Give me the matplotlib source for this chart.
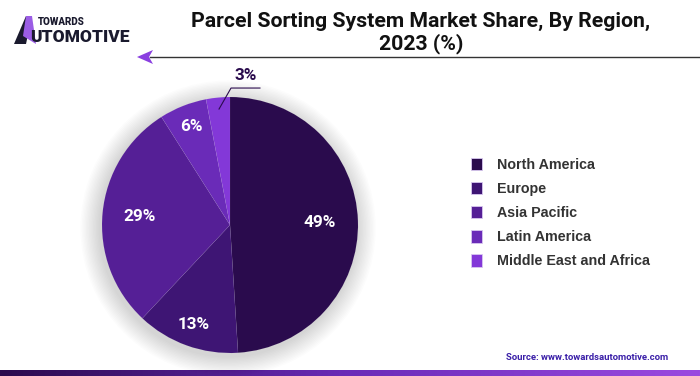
import numpy as np
import matplotlib
matplotlib.use("Agg")
import matplotlib.pyplot as plt
from matplotlib.patches import Polygon, Circle, Rectangle
from matplotlib.lines import Line2D
from matplotlib.colors import LinearSegmentedColormap

# data
regions = ["North America", "Europe", "Asia Pacific", "Latin America", "Middle East and Africa"]
shares = [49, 13, 29, 6, 3]
colors = ["#2a0b4d", "#3e1574", "#551f96", "#6a2bb8", "#8338d8"]
label_dist = [0.70, 0.83, 0.71, 0.83, None]   # None -> outside with leader

title = "Parcel Sorting System Market Share, By Region,\n2023 (%)"
source = "Source: www.towardsautomotive.com"

plt.rcParams["font.family"] = ["Roboto", "DejaVu Sans"]

W, H = 700, 376
fig = plt.figure(figsize=(7, 3.76), dpi=100)
fig.patch.set_facecolor("white")

# overlay axes in pixel coords for decorations
deco = fig.add_axes([0, 0, 1, 1], zorder=0)
deco.set_xlim(0, W)
deco.set_ylim(H, 0)
deco.axis("off")

# pie axes
cx, cy, r = 230, 225, 128
ax = fig.add_axes([(cx - r) / W, (H - cy - r) / H, 2 * r / W, 2 * r / H], zorder=2)
ax.axis("off")

# soft shadow behind pie
for k in range(14):
    rr = 1.0 + 0.011 * (14 - k)
    ax.add_patch(Circle((-0.015, -0.025), rr, color="#000000", alpha=0.011, lw=0,
                        zorder=0, clip_on=False))

wedges, _ = ax.pie(shares, colors=colors, startangle=90, counterclock=False,
                   radius=1, wedgeprops=dict(linewidth=0.3, edgecolor=(1, 1, 1, 0.1)))
ax.set_xlim(-1, 1)
ax.set_ylim(-1, 1)

for w, s, d in zip(wedges, shares, label_dist):
    mid = np.deg2rad((w.theta1 + w.theta2) / 2)
    if d is not None:
        ax.text(d * np.cos(mid), d * np.sin(mid), f"{s}%", color="white",
                fontsize=12.3, fontweight="bold", ha="center", va="center", zorder=5)
    else:
        p0 = (0.91 * np.cos(mid), 0.91 * np.sin(mid))
        p1 = (0.008, 1.07)
        p2 = (0.234, 1.07)
        ax.add_line(Line2D([p0[0], p1[0], p2[0]], [p0[1], p1[1], p2[1]],
                           color="#2a0b4d", lw=0.8, clip_on=False, zorder=5))
        ax.text(0.125, 1.17, f"{s}%", color="#2a0b4d", fontsize=12.3,
                fontweight="bold", ha="center", va="center", clip_on=False)

# legend
handles = [Rectangle((0, 0), 1, 1, facecolor=c, edgecolor="#d8c8f0", lw=0.6) for c in colors]
leg = fig.legend(handles, regions, loc="upper left", bbox_to_anchor=(458 / W, 1 - 145 / H),
                 frameon=False, handlelength=0.75, handleheight=0.95, handletextpad=1.1,
                 labelspacing=0.70, prop=dict(family="Liberation Sans", weight="bold", size=10.3))
for t in leg.get_texts():
    t.set_color("#333333")

# title
fig.text(421 / W, 1 - 33 / H, title, ha="center", va="center", fontsize=15.3,
         fontweight="bold", color="#111111", linespacing=1.1)

# title rule with arrowhead
deco.plot([150, 700], [57, 57], color="#333333", lw=1)
deco.add_patch(Polygon([[137, 57], [153, 50], [149, 57], [153, 64]], closed=True,
                       facecolor="#8a3fe0", edgecolor="none"))

# logo
deco.add_patch(Polygon([[14, 44], [26, 16], [32, 16], [26, 44]], closed=True,
                       facecolor="#1a1a2e", edgecolor="none"))
deco.add_patch(Polygon([[26, 16], [32, 16], [36, 44], [23, 36]], closed=True,
                       facecolor="#9b5de5", edgecolor="none"))
deco.text(38, 22, "TOWARDS", fontsize=7, fontweight="heavy", color="#1a1a2e",
          ha="left", va="center")
deco.text(30, 37, "UTOMOTIVE", fontsize=12.5, fontweight="heavy", color="#1a1a2e",
          ha="left", va="center")

# source
deco.text(668, 357, source, fontsize=6.8, fontweight="bold", color="#3a1fa8",
          ha="right", va="center")

# bottom gradient band
grad = np.linspace(0, 1, 256)[None, :]
cmap = LinearSegmentedColormap.from_list("band", ["#2a0b4d", "#6a2bb8", "#9b4be0"])
deco.imshow(grad, cmap=cmap, extent=[0, W, H, H - 6], aspect="auto", zorder=1)
deco.set_xlim(0, W)
deco.set_ylim(H, 0)

fig.savefig("out.png", dpi=100, facecolor="white")
